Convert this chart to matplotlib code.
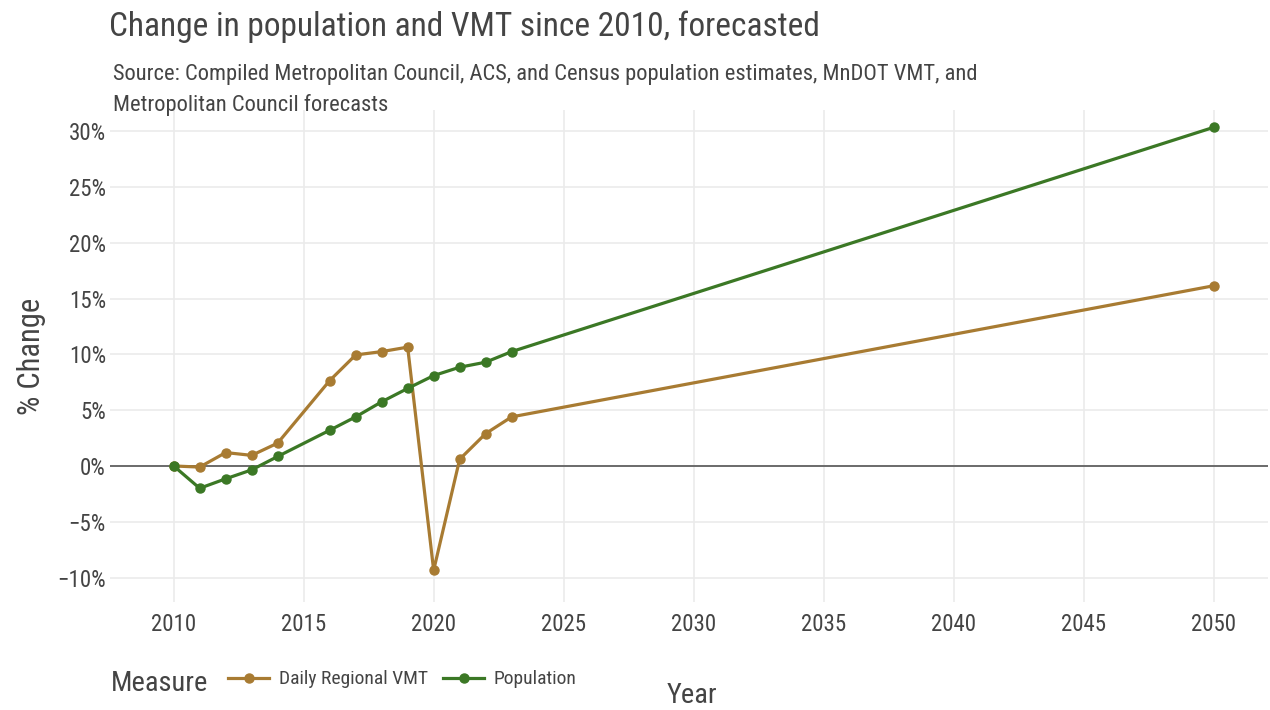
import matplotlib
matplotlib.use('Agg')
import matplotlib.pyplot as plt
from matplotlib.ticker import FuncFormatter
from matplotlib import font_manager

# data (% change since 2010)
years_vmt = [2010, 2011, 2012, 2013, 2014, 2016, 2017, 2018, 2019, 2020, 2021, 2022, 2023, 2050]
vmt = [0.0, -0.1, 1.2, 0.95, 2.05, 7.65, 9.95, 10.25, 10.65, -9.35, 0.6, 2.9, 4.4, 16.15]
years_pop = [2010, 2011, 2012, 2013, 2014, 2016, 2017, 2018, 2019, 2020, 2021, 2022, 2023, 2050]
pop = [0.0, -2.0, -1.15, -0.35, 0.85, 3.2, 4.4, 5.75, 6.95, 8.1, 8.85, 9.3, 10.25, 30.35]
series_names = ['Daily Regional VMT', 'Population']
series_colors = ['#A87B32', '#3B7825']
x_ticks = [2010, 2015, 2020, 2025, 2030, 2035, 2040, 2045, 2050]
y_ticks = [-10, -5, 0, 5, 10, 15, 20, 25, 30]

names = {f.name for f in font_manager.fontManager.ttflist}
fam = 'Roboto'
for cand in ['Roboto Condensed', 'Liberation Sans Narrow', 'Arial Narrow']:
    if cand in names:
        fam = cand
        break
plt.rcParams['font.family'] = [fam, 'DejaVu Sans']
txt = '#444444'

fig = plt.figure(figsize=(12.7, 7.1), dpi=100)
ax = fig.add_axes([0.0866, 0.152, 0.912, 0.693])

ax.plot(years_vmt, vmt, '-o', color=series_colors[0], lw=2.3, ms=6.5, label=series_names[0], zorder=3)
ax.plot(years_pop, pop, '-o', color=series_colors[1], lw=2.3, ms=6.5, label=series_names[1], zorder=3)
ax.axhline(0, color='#555555', lw=1.2, zorder=2)

ax.set_xlim(2007.55, 2052.1)
ax.set_ylim(-12.2, 31.9)
ax.set_xticks(x_ticks)
ax.set_yticks(y_ticks)
ax.yaxis.set_major_formatter(FuncFormatter(lambda v, p: ('\u2212' if v < 0 else '') + '%d%%' % abs(v)))
ax.grid(True, color='#ebebeb', lw=1.2, zorder=0)
ax.tick_params(length=0, labelsize=16.5, colors=txt, pad=3)
ax.tick_params(axis='x', pad=8)
for s in ax.spines.values():
    s.set_visible(False)

ax.set_ylabel('% Change', fontsize=22, color=txt, labelpad=8)
fig.text(0.545, 0.021, 'Year', fontsize=20.5, color=txt, ha='center', va='center')

fig.text(0.086, 0.962, 'Change in population and VMT since 2010, forecasted', fontsize=24, color=txt, va='center')
fig.text(0.089, 0.895, 'Source: Compiled Metropolitan Council, ACS, and Census population estimates, MnDOT VMT, and',
         fontsize=16.2, color=txt, va='center')
fig.text(0.089, 0.852, 'Metropolitan Council forecasts', fontsize=16.2, color=txt, va='center')

fig.text(0.087, 0.037, 'Measure', fontsize=20.5, color=txt, va='center')
leg = fig.legend(loc='center left', bbox_to_anchor=(0.166, 0.043), ncol=2, frameon=False,
                 fontsize=14, handlelength=2.1, columnspacing=0.8, handletextpad=0.5)
for t in leg.get_texts():
    t.set_color(txt)

fig.savefig('out.png', dpi=100)
